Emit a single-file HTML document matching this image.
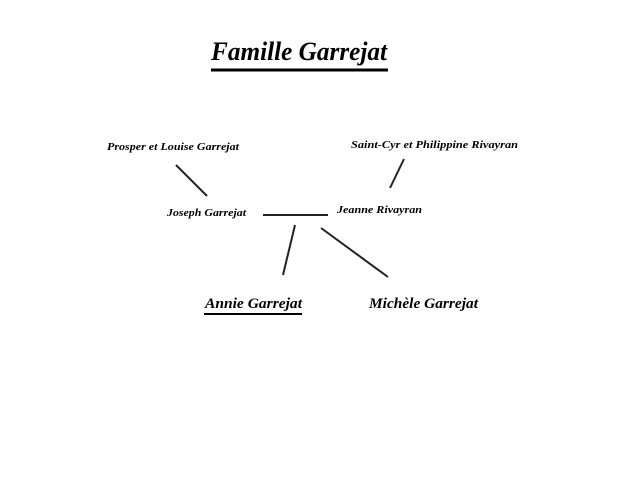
<!DOCTYPE html>
<html><head><meta charset="utf-8"><style>
html,body{margin:0;padding:0;background:#fff;width:640px;height:480px;overflow:hidden}
svg{display:block}
text{font-family:"Liberation Serif",serif;font-style:italic;font-weight:bold;fill:#000}
</style></head><body>
<svg width="640" height="480" viewBox="0 0 640 480">
<text x="211" y="60" font-size="26" textLength="176" lengthAdjust="spacingAndGlyphs">Famille Garrejat</text>
<line x1="211" y1="70" x2="388" y2="70" stroke="#000" stroke-width="3"/>
<text x="107" y="150" font-size="11" textLength="132" lengthAdjust="spacingAndGlyphs">Prosper et Louise Garrejat</text>
<text x="351" y="148" font-size="11" textLength="167" lengthAdjust="spacingAndGlyphs">Saint-Cyr et Philippine Rivayran</text>
<line x1="176" y1="165" x2="207" y2="196" stroke="#222" stroke-width="2"/>
<line x1="404" y1="159" x2="390" y2="188" stroke="#222" stroke-width="2"/>
<text x="167" y="216" font-size="11" textLength="79" lengthAdjust="spacingAndGlyphs">Joseph Garrejat</text>
<text x="337" y="213" font-size="11" textLength="85" lengthAdjust="spacingAndGlyphs">Jeanne Rivayran</text>
<line x1="263" y1="215" x2="328" y2="215" stroke="#222" stroke-width="2"/>
<line x1="295" y1="225" x2="283" y2="275" stroke="#222" stroke-width="2"/>
<line x1="321" y1="228" x2="388" y2="277" stroke="#222" stroke-width="2"/>
<text x="205" y="308" font-size="15" textLength="97" lengthAdjust="spacingAndGlyphs">Annie Garrejat</text>
<line x1="204" y1="314" x2="302" y2="314" stroke="#000" stroke-width="2"/>
<text x="369" y="308" font-size="15" textLength="109" lengthAdjust="spacingAndGlyphs">Michèle Garrejat</text>
</svg>
</body></html>
